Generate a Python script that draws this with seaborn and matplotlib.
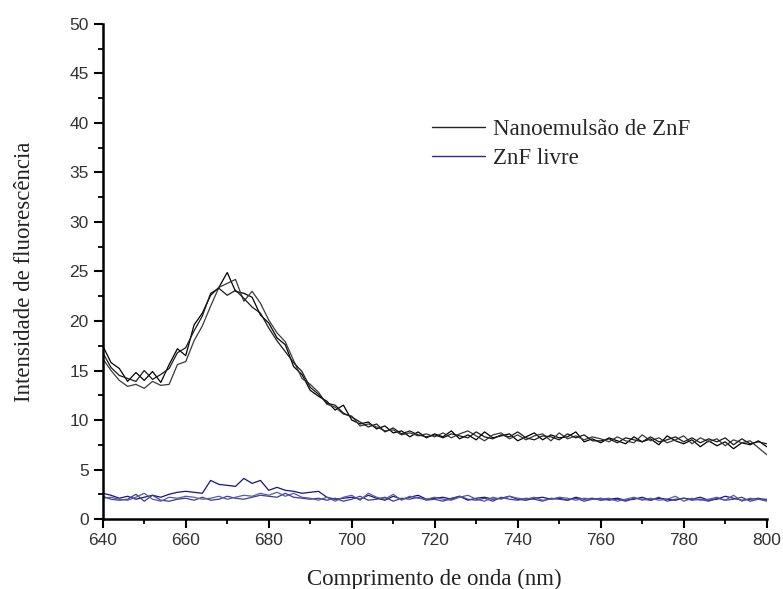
import numpy as np
import pandas as pd
import matplotlib
matplotlib.use("Agg")
import matplotlib.pyplot as plt
from matplotlib.ticker import MultipleLocator
from matplotlib.lines import Line2D
import seaborn as sns

# Emission spectra sampled every 2 nm (640-800 nm)
wavelength = list(range(640, 802, 2))

nano_rep1 = [
    17.5, 15.8, 15.2, 13.9, 14.8, 14.0, 14.9, 13.8, 15.6, 17.2, 16.5, 19.6, 20.8, 22.6, 23.4, 24.9, 23.0, 22.8, 22.4, 20.6,
    19.8, 18.3, 17.6, 15.4, 14.6, 13.0, 12.4, 11.9, 11.0, 11.5, 10.0, 9.6, 9.8, 9.1, 9.4, 8.7, 8.9, 8.3, 8.8, 8.2,
    8.6, 8.3, 8.9, 8.1, 8.5, 8.0, 8.8, 8.2, 8.4, 8.6, 7.9, 8.3, 8.7, 8.0, 8.5, 8.2, 8.3, 8.8, 7.8, 8.1,
    7.7, 8.2, 7.9, 7.6, 8.3, 7.8, 8.1, 7.5, 8.4, 7.9, 7.6, 8.0, 7.3, 7.9, 7.4, 7.8, 7.1, 7.7, 7.5, 7.9,
    7.3,
]
nano_rep2 = [
    16.2, 15.0, 14.0, 13.4, 13.6, 13.2, 13.9, 13.5, 13.6, 15.6, 15.9, 18.0, 19.5, 21.5, 23.4, 23.8, 24.2, 22.0, 23.0, 21.8,
    20.1, 18.8, 17.9, 16.0, 14.2, 13.6, 12.8, 11.6, 11.3, 10.6, 10.4, 9.4, 9.6, 9.3, 8.9, 9.0, 8.5, 8.7, 8.4, 8.6,
    8.3, 8.7, 8.2, 8.6, 8.9, 8.4, 7.9, 8.5, 8.7, 8.1, 8.5, 8.0, 8.4, 8.6, 7.9, 8.7, 8.1, 8.4, 8.0, 8.3,
    8.1, 7.8, 8.3, 7.9, 7.7, 8.5, 7.9, 8.2, 7.7, 8.0, 8.4, 7.6, 8.2, 7.8, 8.1, 7.4, 8.0, 7.7, 7.9, 7.2,
    6.5,
]
nano_rep3 = [
    16.8, 15.3, 14.5, 14.2, 13.9, 15.0, 14.1, 14.6, 15.2, 16.8, 17.3, 19.0, 20.5, 22.8, 23.3, 22.6, 23.1, 22.3, 21.4, 20.8,
    19.3, 18.0, 16.9, 15.8, 14.9, 13.3, 12.6, 11.7, 11.5, 10.7, 10.3, 9.8, 9.3, 9.6, 8.8, 9.2, 8.6, 8.9, 8.5, 8.3,
    8.5, 8.2, 8.6, 8.4, 8.2, 8.8, 8.3, 8.1, 8.5, 8.3, 8.8, 8.2, 8.0, 8.4, 8.3, 8.0, 8.6, 8.2, 8.5, 7.9,
    7.9, 8.1, 7.7, 8.2, 8.0, 7.8, 8.3, 7.8, 8.0, 8.3, 7.8, 8.2, 7.7, 8.1, 7.8, 8.2, 7.5, 8.1, 7.6, 7.8,
    7.6,
]
free_rep1 = [
    2.6, 2.4, 2.1, 2.3, 2.0, 2.2, 2.4, 2.2, 2.5, 2.7, 2.8, 2.7, 2.6, 3.9, 3.5, 3.4, 3.3, 4.1, 3.6, 3.9,
    2.9, 3.2, 2.9, 2.8, 2.6, 2.7, 2.8, 2.2, 2.0, 2.1, 2.2, 2.0, 2.4, 2.1, 1.9, 2.3, 2.0, 2.2, 2.4, 2.0,
    2.1, 2.2, 2.0, 2.3, 1.9, 2.1, 2.2, 2.0, 2.1, 2.3, 2.0, 1.9, 2.1, 2.2, 2.0, 2.1, 1.9, 2.2, 2.0, 2.1,
    1.9, 2.0, 2.1, 1.9, 2.0, 2.2, 1.9, 2.1, 2.0, 1.9, 2.1, 2.0, 2.2, 1.9, 2.0, 2.3, 2.1, 1.9, 2.0, 2.1,
    1.9,
]
free_rep2 = [
    2.3, 2.0, 1.9, 2.0, 2.5, 1.8, 2.4, 1.9, 1.8, 2.0, 2.1, 1.9, 2.2, 1.9, 2.0, 2.3, 2.1, 2.0, 2.2, 2.4,
    2.3, 2.2, 2.6, 2.2, 2.1, 2.0, 2.1, 1.9, 2.1, 1.8, 2.0, 2.3, 1.9, 2.0, 2.2, 1.8, 2.1, 2.0, 2.2, 1.9,
    2.0, 1.8, 2.1, 2.3, 2.0, 1.9, 2.1, 1.8, 2.2, 2.0, 1.9, 2.1, 2.0, 1.8, 2.1, 2.0, 1.9, 2.1, 1.8, 2.0,
    2.1, 1.9, 2.0, 1.8, 2.1, 2.0, 1.9, 2.2, 1.8, 2.0, 2.1, 1.9, 2.0, 1.8, 2.1, 1.9, 2.0, 2.2, 1.8, 2.0,
    2.0,
]
free_rep3 = [
    2.1, 2.2, 2.0, 1.9, 2.2, 2.6, 2.0, 1.8, 2.2, 2.1, 2.3, 2.2, 2.0, 2.1, 2.3, 2.0, 2.2, 2.4, 2.3, 2.6,
    2.4, 2.7, 2.3, 2.6, 2.2, 2.1, 1.9, 2.2, 1.8, 2.2, 2.4, 1.9, 2.6, 2.2, 2.0, 2.5, 1.9, 2.3, 2.1, 2.0,
    2.2, 2.0, 1.9, 2.2, 2.4, 2.0, 1.8, 2.2, 2.0, 2.3, 2.1, 2.0, 2.2, 1.9, 2.0, 2.2, 2.1, 1.9, 2.1, 2.0,
    2.0, 2.1, 1.8, 2.0, 2.2, 1.9, 2.1, 1.9, 2.0, 2.3, 1.8, 2.1, 1.9, 2.0, 2.2, 1.9, 2.4, 1.8, 2.1, 2.0,
    1.8,
]

samples = ["Nanoemulsão de ZnF", "ZnF livre"]
replicates = {
    samples[0]: [nano_rep1, nano_rep2, nano_rep3],
    samples[1]: [free_rep1, free_rep2, free_rep3],
}

rows = []
for sample, reps in replicates.items():
    for r, values in enumerate(reps):
        for wl, v in zip(wavelength, values):
            rows.append({"wl": wl, "I": v, "amostra": sample, "rep": f"{sample}-{r}"})
df = pd.DataFrame(rows)

sns.set_theme(style="ticks")
serif = ["Liberation Serif", "DejaVu Serif"]
sans = ["Liberation Sans", "DejaVu Sans"]

fig = plt.figure(figsize=(7.83, 5.89), dpi=100)
ax = fig.add_axes([0.1312, 0.1188, 0.8480, 0.8405])

rep_colors = {
    "Nanoemulsão de ZnF-0": "#000000",
    "Nanoemulsão de ZnF-1": "#3a3a3a",
    "Nanoemulsão de ZnF-2": "#1a1a1a",
    "ZnF livre-0": "#14148a",
    "ZnF livre-1": "#3c3c9a",
    "ZnF livre-2": "#5a5aa0",
}
sns.lineplot(data=df, x="wl", y="I", hue="rep", palette=rep_colors,
             estimator=None, lw=0.9, legend=False, ax=ax)

# Legend: one entry per sample
handles = [Line2D([], [], color="#222222", lw=1.0),
           Line2D([], [], color="#2a2a90", lw=1.0)]
ax.legend(handles, samples, loc="upper left", bbox_to_anchor=(0.482, 0.826),
          frameon=False, handlelength=2.3, handletextpad=0.35, labelspacing=0.33,
          borderaxespad=0.0, prop={"family": serif, "size": 16.5})

ax.set_xlim(640, 800)
ax.set_ylim(0, 50)
ax.xaxis.set_major_locator(MultipleLocator(20))
ax.xaxis.set_minor_locator(MultipleLocator(10))
ax.yaxis.set_major_locator(MultipleLocator(5))
ax.yaxis.set_minor_locator(MultipleLocator(2.5))

sns.despine(ax=ax)
for s in ("left", "bottom"):
    ax.spines[s].set_linewidth(1.8)
    ax.spines[s].set_color("black")
ax.tick_params(which="major", length=6.5, width=1.5, direction="out", color="black")
ax.tick_params(which="minor", length=3.6, width=1.3, direction="out", color="black")
ax.tick_params(labelsize=12.5, labelcolor="#333333")
for lab in ax.get_xticklabels() + ax.get_yticklabels():
    lab.set_family(sans)

ax.set_xlabel("Comprimento de onda (nm)", family=serif, fontsize=16.5, labelpad=15, color="#222222")
ax.set_ylabel("Intensidade de fluorescência", family=serif, fontsize=16.5, labelpad=25, color="#222222")

fig.savefig("out.png", dpi=100)
